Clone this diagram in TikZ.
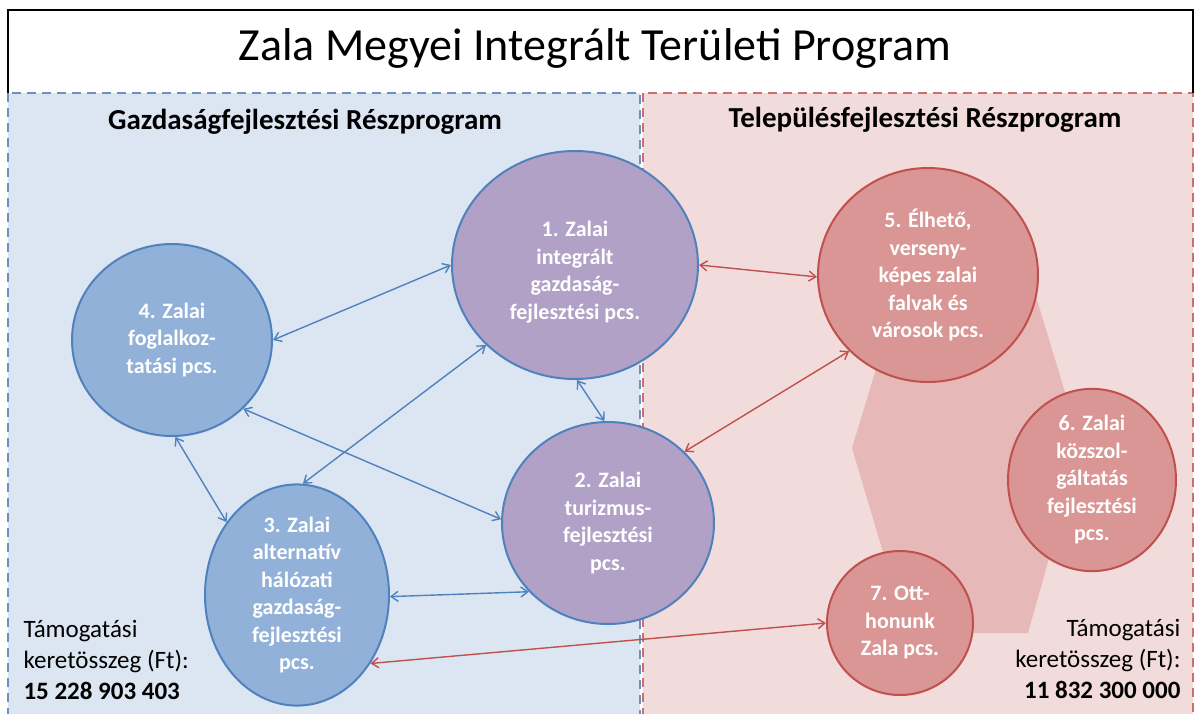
\documentclass[tikz,border=0pt]{standalone}
\usepackage{fontspec}
\setmainfont{Carlito}
\usepackage{tikz}
\usetikzlibrary{arrows.meta}
\usetikzlibrary{shapes.geometric}
\usetikzlibrary{positioning}

\definecolor{gazdbg}{HTML}{DCE6F2}
\definecolor{gazdline}{HTML}{6F8FBF}
\definecolor{telbg}{HTML}{F2DCDB}
\definecolor{telline}{HTML}{CC6E6B}
\definecolor{kekfill}{HTML}{92B1D8}
\definecolor{kekline}{HTML}{4F81BD}
\definecolor{lilafill}{HTML}{B2A1C7}
\definecolor{pirosfill}{HTML}{D99694}
\definecolor{pirosline}{HTML}{C0504D}
\definecolor{hatszog}{HTML}{E6B9B8}

\tikzset{
  pcs/.style={draw, ellipse, line width=2pt, inner sep=0pt, text=white, align=center,
    font=\fontsize{22}{27.5}\selectfont\bfseries},
  kekpcs/.style={pcs, fill=kekfill, draw=kekline},
  lilapcs/.style={pcs, fill=lilafill, draw=kekline},
  pirospcs/.style={pcs, fill=pirosfill, draw=pirosline},
  kapcs/.style={{Straight Barb[length=7pt,width=10pt]}-{Straight Barb[length=7pt,width=10pt]}, line width=1.4pt},
  kekkapcs/.style={kapcs, draw=kekline},
  piroskapcs/.style={kapcs, draw=pirosline},
  resz/.style={font=\fontsize{29}{34}\selectfont\bfseries},
  keret/.style={font=\fontsize{25}{31}\selectfont}
}

\begin{document}
\begin{tikzpicture}[x=1pt, y=-1pt]
            \useasboundingbox (0,0) rectangle (1195,713);
            \fill[white] (0,0) rectangle (1195,713);

            % hatter
            \draw[fill=gazdbg, draw=gazdline, line width=2pt, dash pattern=on 9pt off 6pt] (8,93) rectangle (640,720);
            \draw[fill=telbg, draw=telline, line width=2pt, dash pattern=on 9pt off 6pt] (643,93) rectangle (1193,720);
            \draw[line width=2pt] (8,93) -- (8,10) -- (1193,10) -- (1193,93);
            \fill[hatszog] (900,290) -- (1034,290) -- (1081,445) -- (1028,633) -- (907,633) -- (852,448) -- cycle;

            \draw (595,48) node[font=\fontsize{46}{52}\selectfont] (cim) {Zala Megyei Integrált Területi Program};
            \draw (305,122) node[resz] (gazd) {Gazdaságfejlesztési Részprogram};
            \draw (925,120) node[resz] (tel) {Településfejlesztési Részprogram};

            % programok
            \draw (575,265) node[lilapcs, minimum width=246pt, minimum height=228pt] (p1) {\rule{0pt}{30pt}1. Zalai\\integrált\\gazdaság-\\fejlesztési pcs.};
            \draw (608,523) node[lilapcs, minimum width=212pt, minimum height=202pt] (p2) {2. Zalai\\turizmus-\\fejlesztési\\pcs.};
            \draw (297,595) node[kekpcs, minimum width=184pt, minimum height=180pt] (p3) {3. Zalai\\alternatív\\hálózati\\gazdaság-\\fejlesztési\\pcs.};
            \draw (172,340) node[kekpcs, minimum width=200pt, minimum height=192pt] (p4) {4. Zalai\\foglalkoz-\\tatási pcs.};
            \draw (928,275) node[pirospcs, minimum width=220pt, minimum height=214pt] (p5) {5. Élhető,\\verseny-\\képes zalai\\falvak és\\városok pcs.};
            \draw (1092,480) node[pirospcs, minimum width=168pt, minimum height=156pt] (p6) {6. Zalai\\közszol-\\gáltatás\\fejlesztési\\pcs.};
            \draw (900,623) node[pirospcs, minimum width=146pt, minimum height=144pt] (p7) {7. Ott-\\honunk\\Zala pcs.};

            \draw[kekkapcs] (p4.0) -- (p1.180);
            \draw[kekkapcs] (p1.222) -- (p3.87);
            \draw[kekkapcs] (p4.272) -- (p3.134);
            \draw[kekkapcs] (p4.316) -- (p2.178);
            \draw[kekkapcs] (p3.359) -- (p2.221);
            \draw[kekkapcs] (p1.271) -- (p2.92);
            \draw[piroskapcs] (p1.0) -- (p5.181);
            \draw[piroskapcs] (p5.224) -- (p2.43);
            \draw[piroskapcs] (p3.317) -- (p7.180);

            \draw (20,660) node[keret, anchor=west, align=left] (keret1) {Támogatási\\keretösszeg (Ft):\\\textbf{15 228 903 403}};
            \draw (1184,659) node[keret, anchor=east, align=right] (keret2) {Támogatási\\keretösszeg (Ft):\\\textbf{11 832 300 000}};
\end{tikzpicture}
\end{document}
